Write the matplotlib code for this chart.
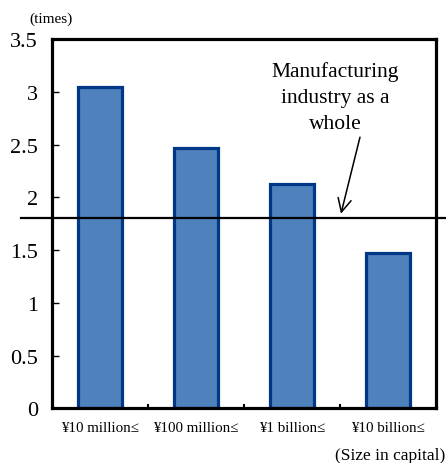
import matplotlib.pyplot as plt

# capital-size groups and their ratios (times)
categories = ['¥10 million≤', '¥100 million≤', '¥1 billion≤', '¥10 billion≤']
ratios = [3.05, 2.47, 2.13, 1.47]
whole_industry = 1.80
yticks = [0, 0.5, 1, 1.5, 2, 2.5, 3, 3.5]

plt.rcParams['font.family'] = ['Liberation Serif', 'DejaVu Serif']


def make_plot():
	fig = plt.figure(figsize=(4.46, 4.64), dpi=100)
	ax = fig.add_axes([0.1166, 0.1175, 0.861, 0.7963])

	x = range(len(categories))
	ax.bar(x, ratios, width=0.45, color='#4F81BD', edgecolor='#003786',
		linewidth=2.3, zorder=2)

	# whole-industry level runs across the frame
	ax.axhline(whole_industry, xmin=-0.081, xmax=1.03, color='black',
		linewidth=1.6, clip_on=False, zorder=3)

	ax.text(2.453, 2.95, 'Manufacturing\nindustry as a\nwhole', ha='center',
		va='center', fontsize=15.5, linespacing=1.48)
	ax.annotate('', xy=(2.51, 1.845), xytext=(2.708, 2.57),
		arrowprops=dict(arrowstyle='->', color='black', lw=1.1,
			shrinkA=0, shrinkB=0, mutation_scale=24))

	ax.set_xlim(-0.5, len(categories) - 0.5)
	ax.set_ylim(0, 3.5)
	ax.set_yticks(yticks)
	ax.set_yticklabels(['0', '0.5', '1', '1.5', '2', '2.5', '3', '3.5'])
	ax.tick_params(axis='y', direction='in', length=5, width=1,
		labelsize=16, pad=10)

	ax.set_xticks([0.5, 1.5, 2.5])
	ax.set_xticklabels([])
	ax.tick_params(axis='x', direction='in', length=3, width=1.5)
	for i, lab in enumerate(categories):
		ax.text(i, -0.178, lab, ha='center', va='center', fontsize=10.8)

	for sp in ax.spines.values():
		sp.set_linewidth(2.3)

	fig.text(0.065, 0.959, '(times)', ha='left', va='center', fontsize=11)
	fig.text(0.999, 0.017, '(Size in capital)', ha='right', va='center',
		fontsize=12.5)

	fig.savefig('out.png', dpi=100)


if __name__ == '__main__':
	make_plot()
